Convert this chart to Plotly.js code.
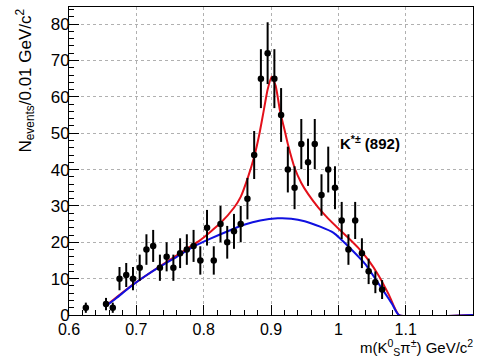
<!DOCTYPE html>
<html>
<head>
<meta charset="utf-8">
<script src="https://cdn.plot.ly/plotly-3.0.1.min.js"></script>
<style>html,body{margin:0;padding:0;background:#fff;}#plot{width:482px;height:358px;}</style>
</head>
<body>
<div id="plot"></div>
<script>
// Data points (bin centers, counts, errors)
var massBins = [0.625, 0.655, 0.665, 0.675, 0.685, 0.695, 0.705, 0.715, 0.725, 0.735, 0.745, 0.755, 0.765, 0.775, 0.785, 0.795, 0.805, 0.815, 0.825, 0.835, 0.845, 0.855, 0.865, 0.875, 0.885, 0.895, 0.905, 0.915, 0.925, 0.935, 0.945, 0.955, 0.965, 0.975, 0.985, 0.995, 1.005, 1.015, 1.025, 1.035, 1.045, 1.055, 1.065];
var counts = [2, 3, 2, 10, 11, 10, 13, 18, 19, 13, 16, 13, 17, 18, 19, 15, 24, 15, 25, 20, 23, 25, 32, 44, 65, 72, 65, 55, 40, 35, 47, 42, 47, 33, 40, 35, 26, 18, 26, 17, 12, 9, 7];
var countErrors = [1.4, 1.7, 1.4, 3.2, 3.3, 3.2, 3.6, 4.2, 4.4, 3.6, 4.0, 3.6, 4.1, 4.2, 4.4, 3.9, 4.9, 3.9, 5.0, 4.5, 4.8, 5.0, 5.7, 6.6, 8.1, 8.5, 8.1, 7.4, 6.3, 5.9, 6.9, 6.5, 6.9, 5.7, 6.3, 5.9, 5.1, 4.2, 5.1, 4.1, 3.5, 3.0, 2.6];

// Total fit curve (red)
var totalX = [0.653, 0.69, 0.735, 0.765, 0.795, 0.825, 0.845, 0.855, 0.866, 0.875, 0.883, 0.889, 0.895, 0.901, 0.907, 0.9135, 0.92, 0.925, 0.935, 0.945, 0.955, 0.97, 0.985, 1.0, 1.015, 1.03, 1.045, 1.06, 1.075, 1.09, 1.2];
var totalY = [2.3, 7.7, 13.4, 17.0, 20.6, 25.3, 29.5, 32.5, 38.0, 43.5, 50.0, 56.0, 62.0, 65.5, 63.0, 56.0, 51.0, 47.0, 40.5, 36.3, 33.3, 29.6, 26.5, 23.8, 21.2, 18.4, 15.0, 10.8, 5.6, 0, 0];

// Background curve (blue)
var bkgX = [0.653, 0.67, 0.69, 0.71, 0.735, 0.76, 0.785, 0.81, 0.834, 0.86, 0.884, 0.91, 0.93, 0.95, 0.973, 0.993, 1.003, 1.018, 1.04, 1.062, 1.07, 1.08, 1.09, 1.2];
var bkgY = [2.2, 4.6, 7.6, 10.3, 13.3, 16.0, 18.8, 21.0, 22.9, 24.8, 26.0, 26.6, 26.5, 25.8, 24.3, 22.6, 21.0, 18.3, 14.0, 8.0, 5.8, 3.0, 0, 0];

var xTickVals = [0.6, 0.7, 0.8, 0.9, 1.0, 1.1, 1.2];
var xTickText = ["0.6", "0.7", "0.8", "0.9", "1", "1.1", "1.2"];
var yTickVals = [0, 10, 20, 30, 40, 50, 60, 70, 80];

var FONT = "Liberation Sans, Arial, Helvetica, sans-serif";

var traces = [
  {x: totalX, y: totalY, type: 'scatter', mode: 'lines',
   line: {color: '#e3101a', width: 2, shape: 'spline', smoothing: 0.4}, hoverinfo: 'skip'},
  {x: bkgX, y: bkgY, type: 'scatter', mode: 'lines',
   line: {color: '#1010e0', width: 2, shape: 'spline', smoothing: 0.5}, hoverinfo: 'skip'},
  {x: massBins, y: counts, type: 'scatter', mode: 'markers',
   marker: {color: '#000', size: 6.5},
   error_y: {type: 'data', array: countErrors, visible: true, width: 0, thickness: 2, color: '#000'}}
];

var layout = {
  width: 482, height: 358,
  margin: {l: 69, r: 9, t: 7, b: 43},
  paper_bgcolor: '#fff', plot_bgcolor: '#fff',
  showlegend: false,
  font: {family: FONT, color: '#000', size: 16},
  xaxis: {
    range: [0.6, 1.2], tickmode: 'array', tickvals: xTickVals, ticktext: xTickText,
    ticks: 'inside', ticklen: 10, tickcolor: '#000', tickwidth: 1,
    minor: {dtick: 0.02, ticks: 'inside', ticklen: 5, tickcolor: '#000', showgrid: false},
    showgrid: true, gridcolor: '#b0b0b0', griddash: 'dot', gridwidth: 1,
    showline: true, mirror: true, linecolor: '#000', linewidth: 1,
    zeroline: false, tickfont: {family: FONT, size: 16, color: '#000'}
  },
  yaxis: {
    range: [0, 84.7], tickmode: 'array', tickvals: yTickVals,
    ticks: 'inside', ticklen: 10, tickcolor: '#000', tickwidth: 1,
    minor: {dtick: 2, ticks: 'inside', ticklen: 5, tickcolor: '#000', showgrid: false},
    showgrid: true, gridcolor: '#b0b0b0', griddash: 'dot', gridwidth: 1,
    showline: true, mirror: true, linecolor: '#000', linewidth: 1,
    zeroline: false, ticklabelstandoff: -5, tickfont: {family: FONT, size: 17, color: '#000'}
  },
  annotations: [
    {xref: 'paper', yref: 'paper', x: 1.005, y: -0.066, xanchor: 'right', yanchor: 'top',
     showarrow: false, text: 'm(K<sup>0</sup><sub>S</sub>π<sup>±</sup>) GeV/c<sup>2</sup>',
     font: {family: FONT, size: 15, color: '#000'}},
    {xref: 'paper', yref: 'paper', x: -0.11, y: 1.0, xanchor: 'center', yanchor: 'top',
     showarrow: false, textangle: -90, text: 'N<sub>events</sub>/0.01 GeV/c<sup>2</sup>',
     font: {family: FONT, size: 17, color: '#000'}},
    {xref: 'x', yref: 'y', x: 1.0, y: 47.5, xanchor: 'left', yanchor: 'middle',
     showarrow: false, text: '<b>K<sup>*±</sup> (892)</b>',
     font: {family: FONT, size: 15, color: '#000'}}
  ]
};

Plotly.newPlot('plot', traces, layout, {displayModeBar: false, staticPlot: true});
</script>
</body>
</html>
